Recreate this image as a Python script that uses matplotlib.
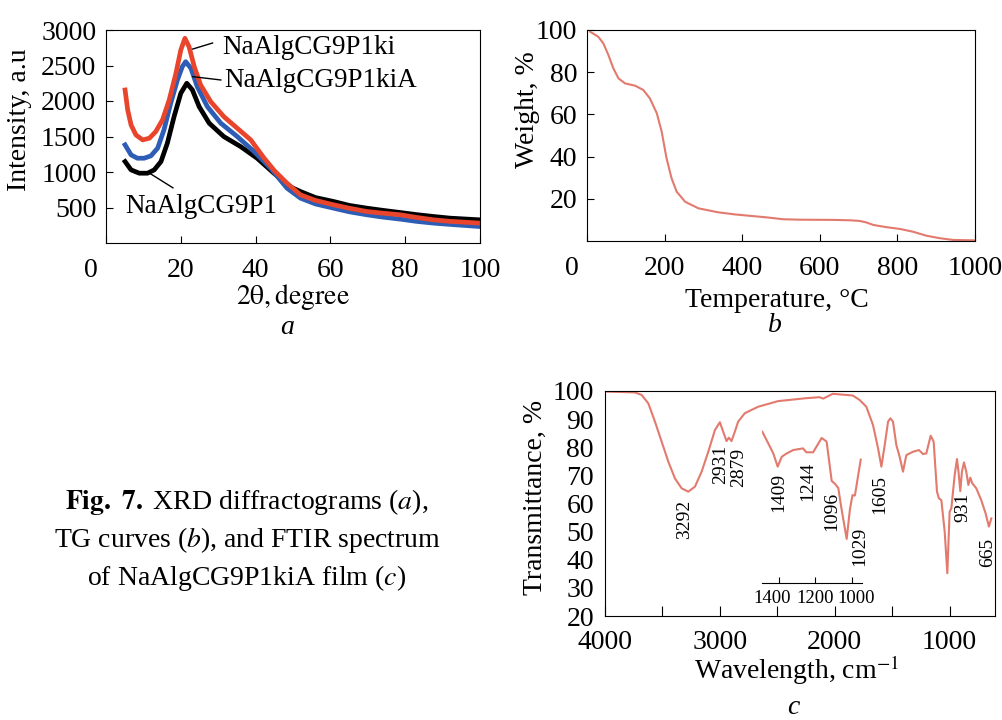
import matplotlib
matplotlib.use('Agg')
import matplotlib.pyplot as plt
import matplotlib.transforms as mtransforms

plt.rcParams['font.family'] = ['Liberation Serif', 'DejaVu Serif']
plt.rcParams['mathtext.fontset'] = 'stix'

W, H = 1003, 720

# ---- (a) XRD: 2theta, intensity ----
xrd_ki_x = [5.1, 5.8, 6.7, 8.0, 9.8, 11.6, 13.3, 15.1, 16.9, 18.7, 20.0, 21.1, 22.2, 23.6,
            25.3, 28.0, 31.5, 35.1, 38.7, 42.2, 45.0, 48.4, 52.0, 56.0, 60.9, 65.0,
            69.8, 74.0, 78.7, 83.0, 87.6, 92.0, 100]
xrd_ki_y = [2155, 1874, 1663, 1522, 1452, 1476, 1569, 1733, 2015, 2390, 2718, 2883, 2765, 2483,
            2226, 1991, 1780, 1616, 1452, 1200, 1020, 842, 678, 600, 537, 490,
            443, 420, 397, 360, 326, 305, 280]
xrd_kia_x = [5.1, 6.7, 8.4, 10.2, 12.0, 13.8, 15.5, 17.3, 19.1, 20.4, 21.3, 22.7, 24.4,
             27.1, 30.7, 35.1, 39.6, 44.0, 48.4, 52.0, 56.0, 60.9, 65.0, 69.8, 74.0,
             78.7, 83.0, 87.6, 92.0, 100]
xrd_kia_y = [1382, 1241, 1194, 1194, 1227, 1335, 1593, 1968, 2296, 2483, 2554, 2461, 2202,
             1921, 1687, 1499, 1288, 1054, 772, 632, 550, 490, 440, 397, 365,
             336, 305, 280, 262, 232]
xrd_p1_x = [5.1, 6.7, 8.9, 11.1, 12.9, 14.7, 16.4, 18.2, 20.0, 21.6, 23.1, 24.9, 27.6,
            31.5, 36.0, 40.4, 44.9, 49.3, 52.0, 56.0, 60.9, 65.0, 69.8, 74.0, 78.7,
            83.0, 87.6, 92.0, 100]
xrd_p1_y = [1147, 1030, 983, 983, 1030, 1147, 1405, 1780, 2109, 2250, 2156, 1921, 1687,
            1499, 1358, 1194, 983, 790, 725, 640, 584, 530, 490, 460, 429,
            400, 373, 350, 326]

# ---- (b) TG: temperature, weight ----
tg_t = [8, 29, 42, 55, 68, 81, 98, 124, 145, 162, 180, 192.5, 205, 218, 231, 253, 287,
        338, 381, 463, 506, 550, 635, 680, 703, 720, 738, 770, 807, 840, 875, 910, 944, 1000]
tg_w = [99.2, 96.8, 93.7, 88.2, 81.8, 77.1, 74.7, 73.6, 71.6, 67.6, 60.5, 51.8, 39.2,
        29.7, 23.4, 18.6, 15.5, 13.6, 12.6, 11.2, 10.3, 10.1, 10.0, 9.8, 9.5, 8.8, 7.6,
        6.6, 5.7, 4.4, 2.5, 1.3, 0.5, 0.3]

# ---- (c) FTIR: wavenumber, transmittance ----
ir_wn = [4000, 3739, 3681, 3623, 3565, 3507, 3449, 3391, 3333, 3275, 3217, 3159, 3101,
         3043, 3000, 2971, 2942, 2922, 2899, 2870, 2841, 2783, 2667, 2493, 2261, 2133,
         2100, 2017, 1843, 1783, 1725, 1667, 1623, 1594, 1565, 1536, 1516, 1493, 1464,
         1435, 1406, 1377, 1319, 1267, 1232, 1203, 1165, 1139, 1110, 1093, 1072, 1043,
         1020, 1000, 985, 956, 936, 922, 907, 893, 875, 855, 837, 820, 803, 768, 725,
         687, 658, 637]
ir_t = [99.8, 99.5, 98.6, 95.6, 89.1, 82.0, 74.9, 68.9, 65.4, 64.2, 66.0, 71.3, 78.4,
        86.1, 88.9, 85.5, 82.2, 83.4, 82.2, 85.5, 89.1, 92.1, 94.4, 96.4, 97.4, 97.8,
        97.3, 99.0, 98.4, 96.8, 94.4, 87.9, 79.6, 73.1, 80.8, 89.1, 90.3, 89.1, 80.8,
        76.6, 71.3, 77.2, 78.4, 79.0, 77.6, 77.8, 84.1, 82.0, 64.2, 61.8, 61.2, 50.0,
        35.2, 57.1, 58.3, 70.1, 75.8, 71.0, 64.4, 71.3, 74.6, 71.3, 66.6, 69.2, 67.2,
        65.4, 61.2, 56.5, 51.8, 54.7]
# expanded 1500-950 region (inset)
ins_wn = [1491, 1459, 1431, 1407, 1385, 1358, 1322, 1268, 1250, 1213, 1166, 1139, 1111,
          1093, 1075, 1057, 1029, 1011, 997, 984, 971, 952]
ins_t = [85.5, 81.4, 77.8, 73.1, 76.6, 77.8, 79.0, 79.6, 78.2, 78.2, 83.3, 82.0, 68.0,
         67.0, 65.5, 58.0, 47.4, 58.0, 63.0, 62.8, 68.0, 75.6]

peak_labels = ['3292', '2931', '2879', '1409', '1244', '1096', '1029', '1605', '931', '665']
peak_x = [3304, 2990, 2838, 2484, 2232, 2029, 1783, 1609, 884, 667]
peak_y = [61.2, 80.8, 79.7, 70.8, 74.9, 64.2, 51.7, 70.1, 63.7, 47.7]

RED = '#E8452C'
BLUE = '#2D5DB5'
SALMON = '#E27A6E'
FS = 20


def box(l, t, r, b):
    # pixel box -> figure fraction [left, bottom, width, height]
    return [l / W, 1 - b / H, (r - l) / W, (b - t) / H]


def ftext(x, y, s, **kw):
    fig.text(x / W, 1 - y / H, s, **kw)


def shift_xlabel(ax, i, dx):
    lab = ax.get_xticklabels()[i]
    lab.set_transform(lab.get_transform() + mtransforms.ScaledTranslation(dx / 100, 0, fig.dpi_scale_trans))


fig = plt.figure(figsize=(W / 100, H / 100), dpi=100)

# (a) XRD
ax1 = fig.add_axes(box(106, 30, 480, 243))
ax1.plot(xrd_p1_x, xrd_p1_y, color='black', lw=3.4)
ax1.plot(xrd_kia_x, xrd_kia_y, color=BLUE, lw=3.4)
ax1.plot(xrd_ki_x, xrd_ki_y, color=RED, lw=3.4)
ax1.set_xlim(0, 100)
ax1.set_ylim(0, 3000)
ax1.set_xticks([0, 20, 40, 60, 80, 100])
ax1.set_yticks([500, 1000, 1500, 2000, 2500, 3000])
ax1.tick_params(direction='in', length=5, labelsize=FS, pad=7)
ax1.tick_params(axis='x', pad=11)
ax1.plot([23.2, 28.5], [2732, 2817], color='black', lw=1)
ax1.text(31.2, 2760, 'NaAlgCG9P1ki', fontsize=19.5, va='center', ha='left')
ax1.plot([23.2, 30.7], [2343, 2296], color='black', lw=1)
ax1.text(31.7, 2282, 'NaAlgCG9P1kiA', fontsize=19.5, va='center', ha='left')
ax1.plot([11.5, 17.9], [988, 777], color='black', lw=1)
ax1.text(5.1, 509, 'NaAlgCG9P1', fontsize=19.5, va='center', ha='left')
shift_xlabel(ax1, 0, -15)
ftext(293, 297, r'$\mathrm{2\theta,degree}$', fontsize=FS, ha='center', va='center')
ftext(20, 120, 'Intensity, a.u', fontsize=FS, ha='center', va='center', rotation=90)
ftext(287, 328, 'a', fontsize=FS, ha='center', va='center', style='italic')

# (b) TG
ax2 = fig.add_axes(box(587, 30, 975, 241))
ax2.plot(tg_t, tg_w, color=SALMON, lw=1.5)
ax2.set_xlim(0, 1000)
ax2.set_ylim(0, 100)
ax2.set_xticks([0, 200, 400, 600, 800, 1000])
ax2.set_yticks([20, 40, 60, 80, 100])
ax2.tick_params(direction='in', length=5, labelsize=FS, pad=7)
ax2.tick_params(axis='x', pad=11)
shift_xlabel(ax2, 0, -15)
ftext(777, 300, 'Temperature, °C', fontsize=FS, ha='center', va='center')
ftext(528, 110, 'Weight, %', fontsize=FS, ha='center', va='center', rotation=90)
ftext(775, 326, 'b', fontsize=FS, ha='center', va='center', style='italic')

# (c) FTIR
ax3 = fig.add_axes(box(605, 391, 995, 616))
ax3.plot(ir_wn, ir_t, color=SALMON, lw=1.5)
ax3.set_xlim(4000, 605)
ax3.set_ylim(20, 100)
ax3.set_xticks([4000, 3500, 3000, 2500, 2000, 1500, 1000])
ax3.set_xticklabels(['4000', '', '3000', '', '2000', '', '1000'])
ax3.set_yticks(range(20, 101, 10))
ax3.tick_params(axis='x', direction='in', length=7, labelsize=FS, pad=10)
ax3.tick_params(axis='y', length=0, labelsize=FS, pad=8)
for lab, x, y in zip(peak_labels, peak_x, peak_y):
    ax3.text(x, y, lab, fontsize=14, rotation=90, ha='center', va='top')

ins = fig.add_axes(box(762, 391, 862, 583))
ins.patch.set_alpha(0)
ins.plot(ins_wn, ins_t, color=SALMON, lw=1.5)
ins.set_xlim(1493, 945)
ins.set_ylim(31.73, 100)
for s in ['top', 'left', 'right']:
    ins.spines[s].set_visible(False)
ins.set_yticks([])
ins.set_xticks([1400, 1200, 1000])
ins.tick_params(axis='x', direction='in', length=4, labelsize=13.5, pad=5)
shift_xlabel(ins, 0, -7)
shift_xlabel(ins, 2, 4)

ftext(797, 670, 'Wavelength, cm$^{-1}$', fontsize=FS, ha='center', va='center')
ftext(535, 497, 'Transmittance, %', fontsize=FS, ha='center', va='center', rotation=90)
ftext(793, 707, 'c', fontsize=FS, ha='center', va='center', style='italic')

# caption
ftext(247, 502, r'$\mathbf{Fig.\ 7.}$ XRD diffractograms ($\it{a}$),', fontsize=20, ha='center', va='center')
ftext(247, 540, r'TG curves ($\it{b}$), and FTIR spectrum', fontsize=20, ha='center', va='center')
ftext(247, 578, r'of NaAlgCG9P1kiA film ($\it{c}$)', fontsize=20, ha='center', va='center')

fig.savefig('out.png', dpi=100)
